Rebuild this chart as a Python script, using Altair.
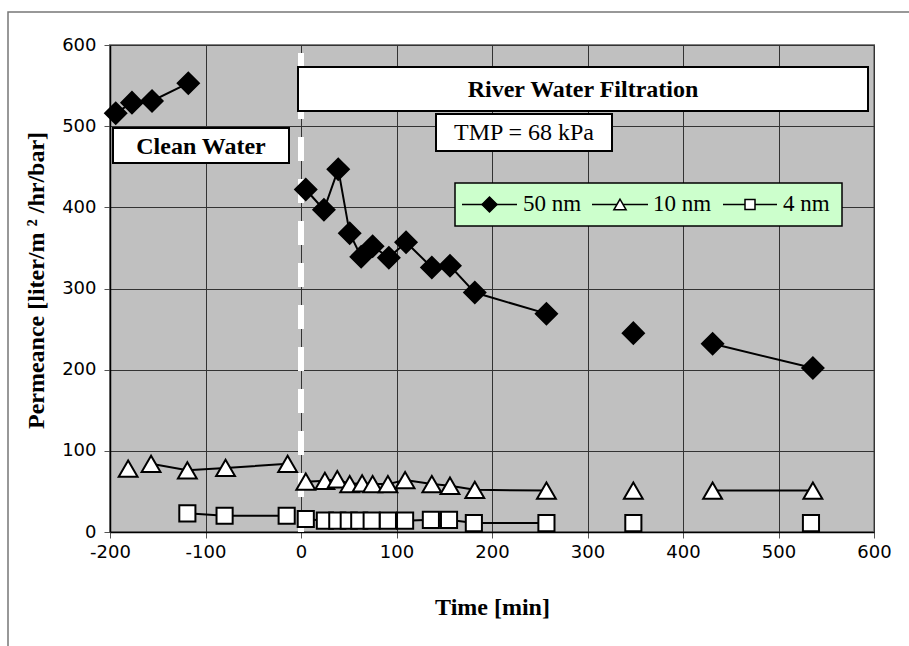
import altair as alt
import pandas as pd

series_names = ["50 nm", "10 nm", "4 nm"]

# 50 nm membrane
x50 = [-194, -177, -156, -118, 5, 24, 39, 51, 63, 75, 92, 110, 137, 156, 182, 257, 348, 431, 536]
y50 = [516, 529, 531, 553, 422, 397, 447, 368, 339, 352, 338, 357, 326, 328, 295, 269, 245, 232, 202]
g50 = ["a"] * 4 + ["b"] * 12 + ["c"] + ["d"] * 2

# 10 nm membrane
x10 = [-181, -157, -119, -79, -14, 5, 25, 38, 51, 64, 75, 91, 109, 137, 156, 182, 257, 348, 431, 536]
y10 = [78, 84, 76, 79, 84, 62, 63, 65, 59, 60, 59, 59, 64, 59, 57, 52, 51, 51, 51, 51]
g10 = ["a"] + ["b"] * 4 + ["c"] * 12 + ["d"] + ["e"] * 2

# 4 nm membrane
x4 = [-119, -80, -15, 5, 25, 38, 50, 61, 74, 91, 109, 136, 155, 181, 257, 348, 534]
y4 = [23, 20, 20, 16, 14, 14, 14, 14, 14, 14, 14, 15, 15, 11, 11, 11, 11]
g4 = ["a"] * 3 + ["b"] * 12 + ["c"] + ["d"]

x_ticks = [-200, -100, 0, 100, 200, 300, 400, 500, 600]
y_ticks = [0, 100, 200, 300, 400, 500, 600]
switch_time = [0]
label_clean = ["Clean Water"]
label_river = ["River Water Filtration"]
label_tmp = ["TMP = 68 kPa"]

rows = []
for name, xs, ys, gs in [("50 nm", x50, y50, g50), ("10 nm", x10, y10, g10), ("4 nm", x4, y4, g4)]:
    for xv, yv, gv in zip(xs, ys, gs):
        rows.append({"series": name, "x": xv, "y": yv, "seg": name + "-" + gv})
df = pd.DataFrame(rows)

X = alt.X(
    "x:Q",
    scale=alt.Scale(domain=[-200, 600], nice=False, zero=False),
    axis=alt.Axis(
        values=x_ticks, title="Time [min]", titleFont="Liberation Serif", titleFontSize=24,
        titleFontWeight="bold", titleColor="black", titlePadding=34,
        labelFont="DejaVu Sans", labelFontSize=18, labelColor="black", labelPadding=5,
        labelExpr="datum.value + ''",
        tickColor="#555555", tickSize=6, domainColor="black", domainWidth=1.5,
        grid=True, gridColor="#333333", gridWidth=1, labelFlush=False, labelOverlap=False,
    ),
)
Y = alt.Y(
    "y:Q",
    scale=alt.Scale(domain=[0, 600], nice=False),
    axis=alt.Axis(
        values=y_ticks, title="Permeance [liter/m ² /hr/bar]", titleFont="Liberation Serif",
        titleFontSize=24, titleFontWeight="bold", titleColor="black", titlePadding=13,
        titleY=235,
        labelFont="DejaVu Sans", labelFontSize=18, labelColor="black", labelPadding=8,
        labelExpr="datum.value + ''",
        tickColor="#555555", tickSize=6, domainColor="black", domainWidth=1.5,
        grid=True, gridColor="#333333", gridWidth=1, labelOverlap=False,
    ),
)

marker_shapes = ["diamond", "triangle-up", "square"]
marker_fills = ["black", "white", "white"]
marker_sizes = [450, 260, 150]

outer = alt.Chart(pd.DataFrame({"t": [""]})).mark_rect(
    fillOpacity=0, stroke="#777777", strokeWidth=1.5
).encode(x=alt.value(-102), x2=alt.value(830), y=alt.value(-33), y2=alt.value(640))

divider = alt.Chart(pd.DataFrame({"x": switch_time})).mark_rule(
    color="white", strokeWidth=6, strokeDash=[24, 18], strokeDashOffset=34
).encode(x=X)

lines = alt.Chart(df).mark_line(color="black", strokeWidth=2).encode(
    x=X, y=Y, detail="seg:N", order="x:Q"
)

points = alt.Chart(df).mark_point(filled=True, stroke="black", strokeWidth=2, opacity=1).encode(
    x=X, y=Y,
    shape=alt.Shape("series:N", scale=alt.Scale(domain=series_names, range=marker_shapes), legend=None),
    fill=alt.Fill("series:N", scale=alt.Scale(domain=series_names, range=marker_fills), legend=None),
    size=alt.Size("series:O", scale=alt.Scale(domain=series_names, range=marker_sizes), legend=None),
)


def box(label, x1, x2, y1, y2, tx, ty, weight):
    d = pd.DataFrame({"t": label})
    r = alt.Chart(d).mark_rect(fill="white", stroke="black", strokeWidth=2).encode(
        x=alt.value(x1), x2=alt.value(x2), y=alt.value(y1), y2=alt.value(y2)
    )
    t = alt.Chart(d).mark_text(
        font="Liberation Serif", fontSize=24, fontWeight=weight, color="black",
        align="center", baseline="middle",
    ).encode(x=alt.value(tx), y=alt.value(ty), text="t:N")
    return r + t


clean_box = box(label_clean, 3, 179, 83, 118, 91, 102, "bold")
river_box = box(label_river, 188, 758, 22, 66, 473, 45, "bold")
tmp_box = box(label_tmp, 326, 502, 69, 106, 414, 88, "normal")

# legend (drawn as a framed key with line + marker samples)
legend_frame = alt.Chart(pd.DataFrame({"t": [""]})).mark_rect(
    fill="#ccffcc", stroke="black", strokeWidth=1.5
).encode(x=alt.value(345), x2=alt.value(732), y=alt.value(138), y2=alt.value(181))

legend_parts = [legend_frame]
legend_slots = [(352, 407, 379.5, 413, 225), (482, 538, 510, 543, 150), (613, 667, 640, 673, 100)]
for name, shp, fil, (lx1, lx2, mx, tx, sz) in zip(series_names, marker_shapes, marker_fills, legend_slots):
    d = pd.DataFrame({"series": [name]})
    legend_parts.append(
        alt.Chart(d).mark_rule(color="black", strokeWidth=1.5).encode(
            x=alt.value(lx1), x2=alt.value(lx2), y=alt.value(159.5)
        )
    )
    legend_parts.append(
        alt.Chart(d).mark_point(
            shape=shp, filled=True, fill=fil, stroke="black", strokeWidth=1.5, opacity=1, size=sz
        ).encode(x=alt.value(mx), y=alt.value(159.5))
    )
    legend_parts.append(
        alt.Chart(d).mark_text(
            font="Liberation Serif", fontSize=23, color="black", align="left", baseline="middle"
        ).encode(x=alt.value(tx), y=alt.value(159), text="series:N")
    )

chart = alt.layer(
    outer, divider, lines, points, clean_box, river_box, tmp_box, *legend_parts
).properties(
    width=764, height=487,
    autosize=alt.AutoSizeParams(type="none"),
    padding={"left": 110, "top": 45, "right": 35, "bottom": 114},
    background="white",
).configure_view(fill="#c0c0c0", stroke="#808080", strokeWidth=2)

chart.save("out.html", embed_options={"renderer": "svg", "actions": False})
